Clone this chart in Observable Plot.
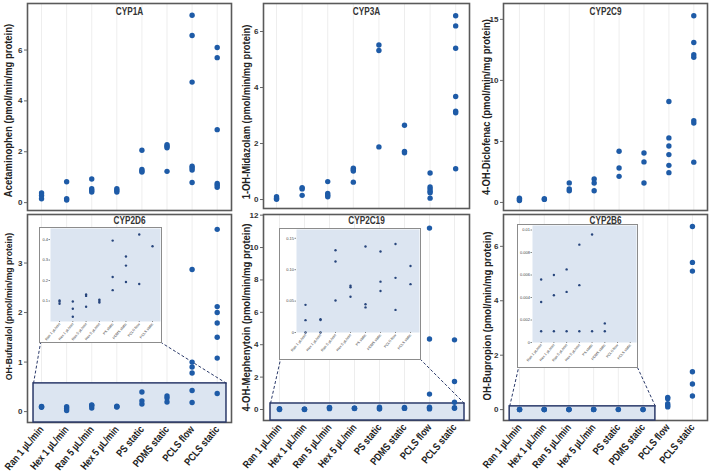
<!DOCTYPE html>
<html><head><meta charset="utf-8">
<script src="https://cdn.jsdelivr.net/npm/d3@7"></script>
<script src="https://cdn.jsdelivr.net/npm/@observablehq/plot@0.6"></script>
<style>
body{margin:0;background:#fff;}
#c{position:relative;width:709px;height:476px;overflow:hidden;background:#fff;}
#c svg{position:absolute;overflow:visible;}
</style></head><body><div id="c"></div>
<script>
const categories = ["Ran 1 µL/min","Hex 1 µL/min","Ran 5 µL/min","Hex 5 µL/min","PS static","PDMS static","PCLS flow","PCLS static"];

// values per category (same order as categories)
const cyp1a = [[0.38,0.28,0.15],[0.82,0.15,0.10],[0.93,0.55,0.48,0.42],[0.55,0.48,0.42],[2.06,1.30,1.24,1.20],[2.28,2.22,2.16,1.23],[7.37,6.57,4.74,1.43,1.36,1.28,0.79],[6.10,5.70,2.87,0.75,0.68,0.60]];
const cyp3a = [[0.10,0.05,0.01],[0.42,0.38,0.15],[0.64,0.22,0.15,0.10],[1.12,1.06,1.02,0.62],[5.52,5.32,1.88],[2.65,1.72,1.67],[0.95,0.45,0.38,0.30,0.24,0.05],[6.56,6.20,5.40,3.68,3.15,3.10,1.10]];
const cyp2c9 = [[0.35,0.25,0.15],[0.30,0.25],[1.60,1.10,0.95],[1.92,1.59,0.96],[4.19,2.82,2.14],[4.05,3.32,1.59],[8.27,5.29,4.63,3.92,3.04,2.44],[15.3,13.1,12.1,11.9,6.7,6.5,3.3]];
const cyp2d6 = [[0.103,0.097,0.087],[0.098,0.062,0.023],[0.132,0.125,0.072],[0.107,0.100,0.093],[0.395,0.217,0.153],[0.317,0.273,0.193],[2.87,1.00,0.90,0.78,0.425,0.183],[3.68,2.12,2.00,1.79,1.50,1.08,0.367]];
const cyp2c19 = [[0.044,0.0197,0.0],[0.021,0.020,0.0],[0.131,0.113,0.051],[0.0745,0.072,0.057],[0.137,0.045,0.040],[0.129,0.081,0.066],[11.2,4.35,0.95,0.141,0.087,0.036],[4.30,1.73,0.45,0.106,0.077]];
const cyp2b6 = [[0.0056,0.0036,0.001],[0.0060,0.0042,0.001],[0.0065,0.0045,0.001],[0.0087,0.0051,0.001],[0.0096,0.001],[0.0017,0.001],[0.45,0.40,0.22,0.15,0.10],[6.73,5.41,5.09,1.39,0.94,0.50]];

const titles = ["CYP1A","CYP3A","CYP2C9","CYP2D6","CYP2C19","CYP2B6"];
const yLabels = ["Acetaminophen (pmol/min/mg protein)","1-OH-Midazolam (pmol/min/mg protein)","4-OH-Diclofenac (pmol/min/mg protein)","OH-Bufuralol (pmol/min/mg protein)","4-OH-Mephenytoin (pmol/min/mg protein)","OH-Bupropion (pmol/min/mg protein)"];
const yTicks = [[0,2,4,6],[0,2,4,6],[0,5,10,15],[0,1,2,3],[0,2,4,6,8,10,12],[0,2,4,6]];
const insetTicks = [[0.1,0.2,0.3,0.4],[0,0.05,0.10,0.15],[0,0.002,0.004,0.006,0.008,0.01]];
const insetTickFormats = [v=>v.toFixed(1), v=>v===0?"0":v.toFixed(2), v=>v===0?"0":(v===0.01?"0.01":v.toFixed(3))];

const FONT = "'Liberation Sans',Arial,sans-serif";
const DOT = "#1e5ba7";
const NAVY = "#2b3a6a";
const BLUEFILL = "#dce5f1";

// layout: frame [x0,x1,y0,y1] in px, domains, axis-title placement
const layout = [
  {frame:[27,231,3,210], xd:[-0.56,7.57], yd:[-0.31,7.83], bottom:false, tdx:-19, ldy:3.5, lfs:10.5, tdy:8},
  {frame:[263,469,3,208], xd:[-0.51,7.54], yd:[-0.32,7.0], bottom:false, tdx:-17, ldy:6, lfs:10.4, tdy:8},
  {frame:[503,707,3,210], xd:[-0.64,7.55], yd:[-0.66,16.3], bottom:false, tdx:-17, ldy:0, lfs:10.5, tdy:8},
  {frame:[27,231,214,422], xd:[-0.56,7.57], yd:[-0.22,3.98], bottom:true, tdx:-19, ldy:-12, lfs:9.6, tdy:6.5,
    inset:{rect:[-0.32,7.37,0.57], box:[-0.04,4.78,1.39,3.70], margins:[10,1,0,21], xd:[-0.68,7.6], yd:[0,0.454]}},
  {frame:[263,469,214,420], xd:[-0.64,7.6], yd:[-0.68,12.04], bottom:true, tdx:-17, ldy:0, lfs:10.6, tdy:6.5,
    inset:{rect:[-0.36,7.4,0.37], box:[0.04,5.64,3.09,11.1], margins:[16,1,0,27], xd:[-0.6,7.6], yd:[0,0.164]}},
  {frame:[503,707,214,420], xd:[-0.65,7.61], yd:[-0.40,7.17], bottom:true, tdx:-16, ldy:-1.5, lfs:10.6, tdy:6.5,
    inset:{rect:[-0.4,5.5,0.12], box:[-0.04,4.78,1.54,6.76], margins:[14,1,0,25], xd:[-0.68,7.49], yd:[0,0.0104]}}
];
const series = [cyp1a, cyp3a, cyp2c9, cyp2d6, cyp2c19, cyp2b6];
const container = document.getElementById("c");

function narrow(svg, set, f) {
  svg.querySelectorAll("text").forEach(t => {
    if (set.has(t.textContent)) {
      const w = t.getComputedTextLength();
      t.setAttribute("textLength", (w * f).toFixed(1));
      t.setAttribute("lengthAdjust", "spacingAndGlyphs");
    }
  });
}
const setA = new Set([...titles, ...categories]);
const setB = new Set(yLabels);

series.forEach((vals, k) => {
  const L = layout[k];
  const [fx0, fx1, fy0, fy1] = L.frame;
  const ML = 30, MR = 2, MT = 2, MB = L.bottom ? 56 : 2;
  const data = vals.flatMap((arr, i) => arr.map(v => ({i, v})));
  const marks = [
    Plot.gridX({ticks: d3.range(categories.length), stroke: "#000", strokeOpacity: 0.07}),
    Plot.frame({stroke: "#5a5a5a", strokeWidth: 1.6})
  ];
  if (L.inset) {
    const r = L.inset.rect, b = L.inset.box;
    marks.push(Plot.rect([r], {x1: d => d[0], x2: d => d[1], y1: L.yd[0], y2: d => d[2], fill: BLUEFILL, stroke: NAVY, strokeWidth: 1.5}));
    marks.push(Plot.link([[r[0], r[2], b[0], b[2]], [r[1], r[2], b[1], b[2]]], {x1: d => d[0], y1: d => d[1], x2: d => d[2], y2: d => d[3], stroke: NAVY, strokeWidth: 1, strokeDasharray: "3,2"}));
  }
  marks.push(Plot.dot(data, {x: "i", y: "v", r: 2.7, fill: DOT}));
  marks.push(Plot.axisY({ticks: yTicks[k], tickFormat: v => String(v), tickSize: 3, tickPadding: 2, fontSize: 8, fontWeight: "bold", fill: "#333", stroke: "#666", label: null}));
  marks.push(Plot.text([yLabels[k]], {frameAnchor: "left", textAnchor: "middle", lineAnchor: "middle", rotate: -90, dx: L.tdx, dy: L.ldy, fontSize: L.lfs, fontWeight: "bold", fill: "#222"}));
  marks.push(Plot.text([titles[k]], {frameAnchor: "top", lineAnchor: "middle", dy: L.tdy, fontSize: 10, fontWeight: "bold", fill: "#333"}));
  if (L.bottom) {
    marks.push(Plot.axisX({ticks: d3.range(categories.length), tickFormat: i => categories[i], tickRotate: -50, tickSize: 0, tickPadding: 5, fontSize: 10.5, fontWeight: "bold", fill: "#222", label: null}));
  }
  const svg = Plot.plot({
    width: ML + (fx1 - fx0) + MR, height: MT + (fy1 - fy0) + MB,
    marginLeft: ML, marginRight: MR, marginTop: MT, marginBottom: MB,
    x: {domain: L.xd, axis: L.bottom ? undefined : null},
    y: {domain: L.yd},
    style: {fontFamily: FONT, overflow: "visible", background: "transparent"},
    marks
  });
  svg.style.left = (fx0 - ML) + "px";
  svg.style.top = (fy0 - MT) + "px";
  container.appendChild(svg);
  narrow(svg, setA, 0.82);
  narrow(svg, setB, 0.9);
  L.sx = v => fx0 + (v - L.xd[0]) / (L.xd[1] - L.xd[0]) * (fx1 - fx0);
  L.sy = v => fy1 - (v - L.yd[0]) / (L.yd[1] - L.yd[0]) * (fy1 - fy0);
});

// insets
series.forEach((vals, k) => {
  const L = layout[k];
  if (!L.inset) return;
  const I = L.inset;
  const j = k - 3;
  const bx0 = L.sx(I.box[0]), bx1 = L.sx(I.box[1]);
  const by0 = L.sy(I.box[3]), by1 = L.sy(I.box[2]);
  const [ml, mr, mt, mb] = I.margins;
  const data = vals.flatMap((arr, i) => arr.map(v => ({i, v}))).filter(d => d.v <= I.yd[1]);
  const svg = Plot.plot({
    width: Math.round(bx1 - bx0), height: Math.round(by1 - by0),
    marginLeft: ml, marginRight: mr, marginTop: mt, marginBottom: mb,
    x: {domain: I.xd, axis: null},
    y: {domain: I.yd, axis: null},
    style: {fontFamily: FONT, overflow: "visible", background: "white"},
    marks: [
      Plot.frame({fill: BLUEFILL}),
      Plot.dot(data, {x: "i", y: "v", r: 1.2, fill: "#27457c"}),
      Plot.axisY({ticks: insetTicks[j], tickFormat: insetTickFormats[j], tickSize: 1.5, tickPadding: 1, fontSize: 4, fill: "#444", stroke: "#888", label: null}),
      Plot.axisX({ticks: d3.range(categories.length), tickFormat: i => categories[i], tickRotate: -50, tickSize: 1, tickPadding: 1, fontSize: 3.6, fill: "#333", stroke: "#888", label: null})
    ]
  });
  svg.style.left = bx0 + "px";
  svg.style.top = by0 + "px";
  svg.style.outline = "1px solid #8c8c8c";
  svg.style.outlineOffset = "-0.5px";
  container.appendChild(svg);
});
</script></body></html>
